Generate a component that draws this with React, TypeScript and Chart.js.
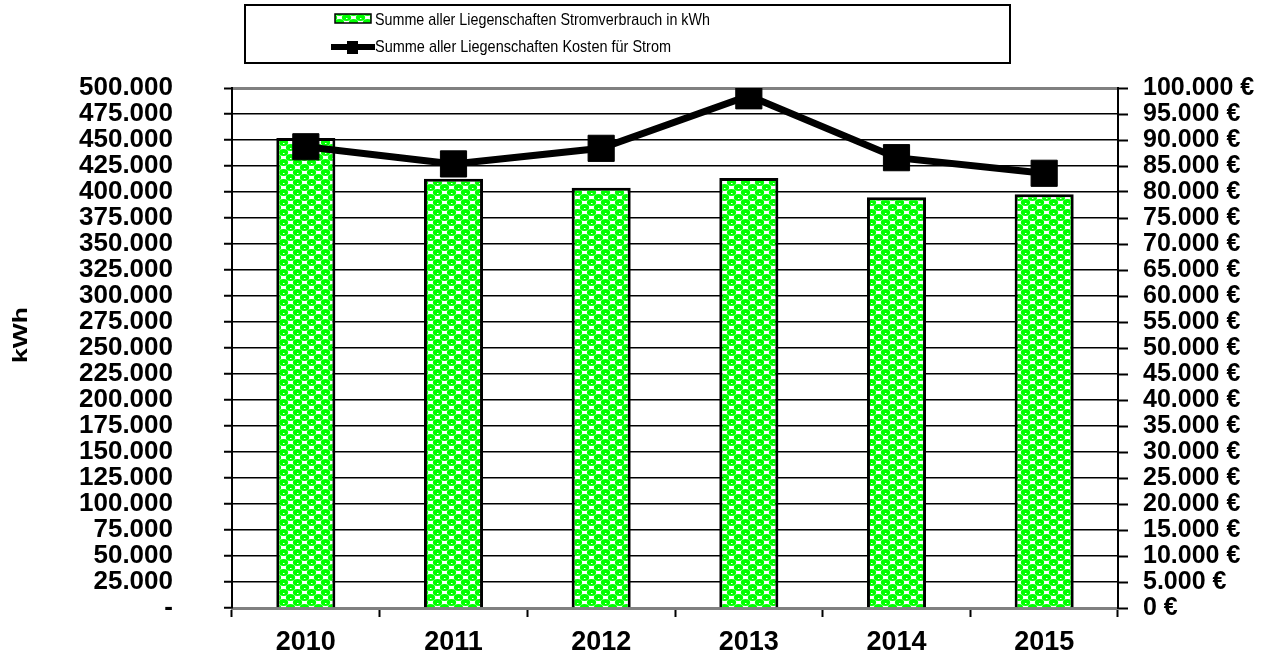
import React, { useEffect, useRef } from "react";
import { Chart, registerables } from "chart.js";

Chart.register(...registerables);

const categories = ["2010", "2011", "2012", "2013", "2014", "2015"];
const consumptionKWh = [452000, 412800, 404100, 413500, 394900, 397800];
const costEUR = [88700, 85400, 88400, 98500, 86600, 83600];
const legendLabels = [
  "Summe aller Liegenschaften Stromverbrauch in kWh",
  "Summe aller Liegenschaften Kosten für Strom",
];
const leftAxisTitle = "kWh";
const leftMax = 500000;
const leftStep = 25000;
const rightMax = 100000;
const rightStep = 5000;

const FONT = "'Liberation Sans', Arial, sans-serif";
const W = 1278;
const H = 659;

function de(n: number): string {
  return Math.round(n)
    .toString()
    .replace(/\B(?=(\d{3})+(?!\d))/g, ".");
}

function makePattern(): CanvasPattern | string {
  const c = document.createElement("canvas");
  const tw = 14;
  const th = 10;
  c.width = tw;
  c.height = th;
  const g = c.getContext("2d");
  if (!g) return "#00ff00";
  g.fillStyle = "#ffffff";
  g.fillRect(0, 0, tw, th);
  g.fillStyle = "#00ff00";
  const blob = (cx: number, cy: number) => {
    g.beginPath();
    g.ellipse(cx, cy, 4.6, 3.5, 0, 0, Math.PI * 2);
    g.fill();
  };
  for (const [cx, cy] of [
    [3.5, 2.5],
    [10.5, 7.5],
    [3.5 + tw, 2.5],
    [10.5 - tw, 7.5],
    [3.5, 2.5 + th],
    [10.5, 7.5 - th],
  ]) {
    blob(cx, cy);
  }
  g.fillStyle = "#ffffff";
  g.fillRect(3, 3, 1.5, 1);
  g.fillRect(10, 8, 1.5, 1);
  const p = g.createPattern(c, "repeat");
  return p || "#00ff00";
}

function drawFitText(ctx: CanvasRenderingContext2D, text: string, x: number, y: number, width: number) {
  const m = ctx.measureText(text).width;
  const sx = m > 0 ? width / m : 1;
  ctx.save();
  ctx.translate(x, y);
  ctx.scale(sx, 1);
  ctx.fillText(text, 0, 0);
  ctx.restore();
}

export default function App() {
  const ref = useRef<HTMLCanvasElement | null>(null);

  useEffect(() => {
    if (!ref.current) return;
    const pattern = makePattern();

    const legendPlugin = {
      id: "customLegend",
      afterDraw(chart: any) {
        const ctx = chart.ctx as CanvasRenderingContext2D;
        ctx.save();
        ctx.strokeStyle = "#000";
        ctx.lineWidth = 2;
        ctx.strokeRect(245, 5, 765, 58);
        ctx.font = `17px ${FONT}`;
        ctx.textBaseline = "middle";
        ctx.textAlign = "left";
        // item 1: bar swatch
        ctx.fillStyle = pattern as any;
        ctx.fillRect(335, 14, 36, 9);
        ctx.strokeStyle = "#000";
        ctx.lineWidth = 1.5;
        ctx.strokeRect(335, 14, 36, 9);
        ctx.fillStyle = "#000";
        drawFitText(ctx, legendLabels[0], 375, 20, 335);
        // item 2: line swatch
        ctx.strokeStyle = "#000";
        ctx.lineWidth = 6;
        ctx.beginPath();
        ctx.moveTo(331, 47);
        ctx.lineTo(375, 47);
        ctx.stroke();
        ctx.fillRect(347, 41, 11, 13);
        drawFitText(ctx, legendLabels[1], 375, 47, 296);
        // left axis title
        ctx.save();
        ctx.translate(21, 335);
        ctx.rotate(-Math.PI / 2);
        ctx.font = `bold 21px ${FONT}`;
        ctx.textAlign = "left";
        ctx.textBaseline = "middle";
        const tw = ctx.measureText(leftAxisTitle).width;
        ctx.scale(56 / tw, 1);
        ctx.fillText(leftAxisTitle, -tw / 2, 0);
        ctx.restore();
        ctx.restore();
      },
    };

    const chart = new Chart(ref.current, {
      type: "bar",
      data: {
        labels: categories,
        datasets: [
          {
            type: "line",
            label: legendLabels[1],
            data: costEUR,
            yAxisID: "y1",
            borderColor: "#000",
            backgroundColor: "#000",
            borderWidth: 7,
            pointStyle: "rect",
            pointRadius: 18.5,
            pointBackgroundColor: "#000",
            pointBorderColor: "#000",
            pointBorderWidth: 1,
            tension: 0,
            order: 0,
          } as any,
          {
            type: "bar",
            label: legendLabels[0],
            data: consumptionKWh,
            yAxisID: "y",
            backgroundColor: pattern as any,
            borderColor: "#000",
            borderWidth: 3,
            barPercentage: 0.4,
            categoryPercentage: 1,
            order: 1,
          } as any,
        ],
      },
      options: {
        animation: false,
        responsive: false,
        maintainAspectRatio: false,
        devicePixelRatio: 1,
        layout: { padding: { top: 88, left: 0, right: 0, bottom: 0 } },
        plugins: {
          legend: { display: false },
          tooltip: { enabled: false },
        },
        scales: {
          x: {
            grid: {
              offset: true,
              drawOnChartArea: false,
              drawTicks: true,
              tickLength: 9,
              tickColor: "#000",
              tickWidth: 2,
            },
            border: { color: "#808080", width: 3 },
            ticks: {
              color: "#000",
              font: { family: FONT, size: 27, weight: "bold" },
              padding: 9,
              autoSkip: false,
              maxRotation: 0,
            },
            afterFit: (s: any) => {
              s.height = 51;
            },
          },
          y: {
            position: "left",
            min: 0,
            max: leftMax,
            grid: {
              color: (c: any) => (c.tick && c.tick.value === leftMax ? "#808080" : "#000"),
              lineWidth: (c: any) => (c.tick && c.tick.value === leftMax ? 3 : 1.5),
              tickLength: 8,
              tickColor: "#000",
              tickWidth: 2,
            },
            border: { color: "#000", width: 2 },
            ticks: {
              stepSize: leftStep,
              autoSkip: false,
              color: "#000",
              font: { family: FONT, size: 26, weight: "bold", lineHeight: 1 },
              padding: 51,
              callback: (v: any) => (Number(v) === 0 ? "-" : de(Number(v))),
            },
            title: { display: false },
            afterFit: (s: any) => {
              s.width = 232;
              s.paddingTop = 0;
              s.paddingBottom = 0;
            },
          },
          y1: {
            position: "right",
            min: 0,
            max: rightMax,
            grid: {
              drawOnChartArea: false,
              tickLength: 10,
              tickColor: "#000",
              tickWidth: 2,
            },
            border: { color: "#000", width: 2 },
            ticks: {
              stepSize: rightStep,
              autoSkip: false,
              color: "#000",
              font: { family: FONT, size: 25, weight: "bold", lineHeight: 1 },
              padding: 15,
              callback: (v: any) => de(Number(v)) + " €",
            },
            afterFit: (s: any) => {
              s.width = 160;
              s.paddingTop = 0;
              s.paddingBottom = 0;
            },
          },
        },
      },
      plugins: [legendPlugin],
    });

    return () => chart.destroy();
  }, []);

  return (
    <div
      style={{
        position: "fixed",
        left: 0,
        top: 0,
        width: W,
        height: H,
        background: "#fff",
      }}
    >
      <canvas ref={ref} width={W} height={H} style={{ display: "block", width: W, height: H }} />
    </div>
  );
}
